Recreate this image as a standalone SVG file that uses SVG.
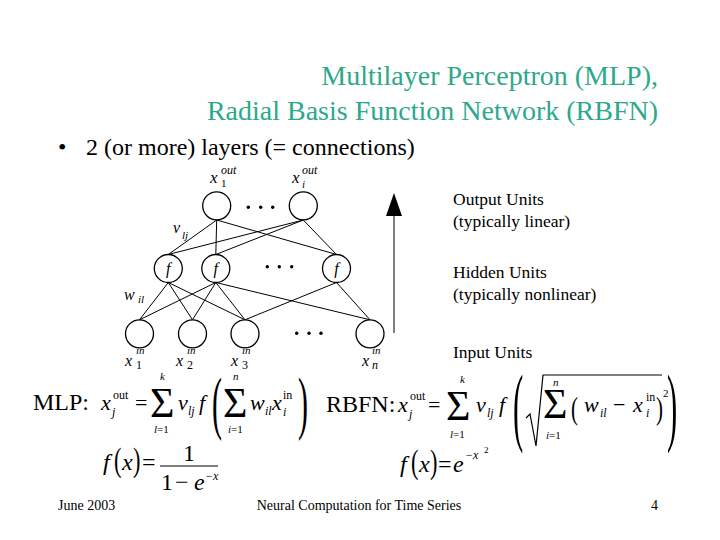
<svg xmlns="http://www.w3.org/2000/svg" width="720" height="540" viewBox="0 0 720 540">
<style>
.t{font-family:"Liberation Serif","Times New Roman",serif;fill:#000}
.i{font-style:italic}
.title{font-family:"Liberation Serif","Times New Roman",serif;font-size:28px;fill:#2DA88A}
.node{fill:#fff;stroke:#000;stroke-width:1.3}
.edge{stroke:#000;stroke-width:1;fill:none}
.dot{fill:#000}
.lg{font-size:17.5px}
</style>
<rect width="720" height="540" fill="#fff"/>

<text class="title" x="658" y="85" text-anchor="end">Multilayer Perceptron (MLP),</text>
<text class="title" x="658" y="120" text-anchor="end">Radial Basis Function Network (RBFN)</text>
<text class="t" x="58" y="155" font-size="24">•</text>
<text class="t" x="86" y="155" font-size="24">2 (or more) layers (= connections)</text>

<g id="connectors">
<line class="edge" x1="216.7" y1="220" x2="168.3" y2="254.5"/>
<line class="edge" x1="216.7" y1="220" x2="215.8" y2="254.5"/>
<line class="edge" x1="216.7" y1="220" x2="336.5" y2="254.5"/>
<line class="edge" x1="303.3" y1="220" x2="168.3" y2="254.5"/>
<line class="edge" x1="303.3" y1="220" x2="215.8" y2="254.5"/>
<line class="edge" x1="303.3" y1="220" x2="336.5" y2="254.5"/>
<line class="edge" x1="168.3" y1="282.5" x2="139.5" y2="319.8"/>
<line class="edge" x1="168.3" y1="282.5" x2="192.5" y2="319.8"/>
<line class="edge" x1="168.3" y1="282.5" x2="245" y2="319.8"/>
<line class="edge" x1="215.8" y1="282.5" x2="139.5" y2="319.8"/>
<line class="edge" x1="215.8" y1="282.5" x2="192.5" y2="319.8"/>
<line class="edge" x1="215.8" y1="282.5" x2="245" y2="319.8"/>
<line class="edge" x1="215.8" y1="282.5" x2="370" y2="319.8"/>
<line class="edge" x1="336.5" y1="282.5" x2="245" y2="319.8"/>
<line class="edge" x1="336.5" y1="282.5" x2="370" y2="319.8"/>
<line class="edge" x1="394" y1="333" x2="394" y2="212"/>
<polygon points="394,193 386,216 402,216" fill="#000"/>
</g>

<g id="out1"><circle class="node" cx="216.7" cy="205.8" r="14"/></g>
<g id="out2"><circle class="node" cx="303.3" cy="205.8" r="14"/></g>
<g id="hid1"><circle class="node" cx="168.3" cy="268.5" r="14"/><text class="t i" x="168.3" y="274" font-size="16" text-anchor="middle">f</text></g>
<g id="hid2"><circle class="node" cx="215.8" cy="268.5" r="14"/><text class="t i" x="215.8" y="274" font-size="16" text-anchor="middle">f</text></g>
<g id="hid3"><circle class="node" cx="336.5" cy="268.5" r="14"/><text class="t i" x="336.5" y="274" font-size="16" text-anchor="middle">f</text></g>
<g id="in1"><circle class="node" cx="139.5" cy="333.8" r="14"/></g>
<g id="in2"><circle class="node" cx="192.5" cy="333.8" r="14"/></g>
<g id="in3"><circle class="node" cx="245" cy="333.8" r="14"/></g>
<g id="inn"><circle class="node" cx="370" cy="333.8" r="14"/></g>

<g id="dots">
<circle class="dot" cx="248.3" cy="207.3" r="1.7"/><circle class="dot" cx="260.7" cy="207.3" r="1.7"/><circle class="dot" cx="272.7" cy="207.3" r="1.7"/>
<circle class="dot" cx="267.3" cy="266.7" r="1.7"/><circle class="dot" cx="279.3" cy="266.7" r="1.7"/><circle class="dot" cx="291.7" cy="266.7" r="1.7"/>
<circle class="dot" cx="296.7" cy="333.3" r="1.7"/><circle class="dot" cx="309" cy="333.3" r="1.7"/><circle class="dot" cx="321" cy="333.3" r="1.7"/>
</g>

<g id="labels">
<text class="t i" x="210" y="183" font-size="17">x</text><text class="t i" x="221" y="174" font-size="12">out</text><text class="t" x="221" y="187" font-size="11">1</text>
<text class="t i" x="292" y="183" font-size="17">x</text><text class="t i" x="302" y="174" font-size="12">out</text><text class="t i" x="302" y="188" font-size="11">i</text>
<text class="t i" x="173" y="233" font-size="16">v</text><text class="t i" x="182" y="239" font-size="11">lj</text>
<text class="t i" x="124" y="300" font-size="16">w</text><text class="t i" x="138" y="303" font-size="11">il</text>
<text class="t i" x="125" y="366" font-size="16">x</text><text class="t i" x="136" y="354" font-size="11">in</text><text class="t" x="136" y="369" font-size="12">1</text>
<text class="t i" x="176" y="366" font-size="16">x</text><text class="t i" x="187" y="354" font-size="11">in</text><text class="t" x="187" y="369" font-size="12">2</text>
<text class="t i" x="231" y="366" font-size="16">x</text><text class="t i" x="242" y="354" font-size="11">in</text><text class="t" x="242" y="369" font-size="12">3</text>
<text class="t i" x="362" y="366" font-size="16">x</text><text class="t i" x="372" y="354" font-size="11">in</text><text class="t i" x="372" y="369" font-size="12">n</text>
</g>

<g id="legend">
<text class="t lg" x="453" y="205">Output Units</text>
<text class="t lg" x="453" y="227">(typically linear)</text>
<text class="t lg" x="453" y="278">Hidden Units</text>
<text class="t lg" x="453" y="300">(typically nonlinear)</text>
<text class="t lg" x="453" y="358">Input Units</text>
</g>

<g id="mlp">
<text class="t" x="33" y="410" font-size="24">MLP:</text>
<text class="t i" x="101" y="410" font-size="22">x</text>
<text class="t" x="113" y="399" font-size="12">out</text>
<text class="t i" x="112" y="416" font-size="12">j</text>
<text class="t" x="135" y="410" font-size="22">=</text>
<text class="t" x="150" y="417" font-size="42">Σ</text>
<text class="t i" x="160" y="380" font-size="11">k</text>
<text class="t" x="154" y="433" font-size="11"><tspan font-style="italic">l</tspan>=1</text>
<text class="t i" x="178" y="410" font-size="22">v</text>
<text class="t i" x="188" y="415" font-size="12">lj</text>
<text class="t i" x="199" y="410" font-size="22">f</text>
<text class="t" font-size="50" transform="translate(212,426) scale(0.6,1.4)">(</text>
<text class="t" x="223" y="417" font-size="42">Σ</text>
<text class="t i" x="233" y="380" font-size="11">n</text>
<text class="t" x="228" y="433" font-size="11"><tspan font-style="italic">i</tspan>=1</text>
<text class="t i" x="250" y="410" font-size="22">w</text>
<text class="t i" x="265" y="415" font-size="12">il</text>
<text class="t i" x="272" y="410" font-size="22">x</text>
<text class="t" x="283" y="399" font-size="12">in</text>
<text class="t i" x="283" y="416" font-size="12">i</text>
<text class="t" font-size="50" transform="translate(298,426) scale(0.6,1.4)">)</text>
</g>

<g id="rbfn">
<text class="t" x="326" y="412" font-size="24">RBFN:</text>
<text class="t i" x="398" y="412" font-size="22">x</text>
<text class="t" x="410" y="400" font-size="12">out</text>
<text class="t i" x="409" y="418" font-size="12">j</text>
<text class="t" x="428" y="412" font-size="22">=</text>
<text class="t" x="446" y="420" font-size="42">Σ</text>
<text class="t i" x="460" y="383" font-size="11">k</text>
<text class="t" x="450" y="438" font-size="11"><tspan font-style="italic">l</tspan>=1</text>
<text class="t i" x="476" y="412" font-size="22">v</text>
<text class="t i" x="487" y="417" font-size="12">lj</text>
<text class="t i" x="499" y="412" font-size="22">f</text>
<text class="t" font-size="56" transform="translate(513,435) scale(0.55,1.55)">(</text>
<polyline points="526,418 530,414 536,446 543,375 662,375" fill="none" stroke="#000" stroke-width="1.2"/>
<text class="t" x="543" y="418" font-size="42">Σ</text>
<text class="t i" x="553" y="386" font-size="11">n</text>
<text class="t" x="546" y="439" font-size="11"><tspan font-style="italic">i</tspan>=1</text>
<text class="t" font-size="30" transform="translate(571,419) scale(0.7,1.05)">(</text>
<text class="t i" x="584" y="412" font-size="22">w</text>
<text class="t i" x="600" y="417" font-size="12">il</text>
<text class="t" x="613" y="412" font-size="22">−</text>
<text class="t i" x="633" y="412" font-size="22">x</text>
<text class="t" x="646" y="401" font-size="12">in</text>
<text class="t i" x="646" y="417" font-size="12">i</text>
<text class="t" font-size="30" transform="translate(656,419) scale(0.7,1.05)">)</text>
<text class="t" x="663" y="397" font-size="11">2</text>
<text class="t" font-size="56" transform="translate(667,435) scale(0.55,1.55)">)</text>
</g>

<g id="fmlp">
<text class="t i" x="103" y="470" font-size="24">f</text>
<text class="t" font-size="28" transform="translate(114,471) scale(0.8,1.2)">(</text>
<text class="t i" x="122" y="470" font-size="24">x</text>
<text class="t" font-size="28" transform="translate(133,471) scale(0.8,1.2)">)</text>
<text class="t" x="142" y="470" font-size="24">=</text>
<line x1="160" y1="466" x2="218" y2="466" stroke="#000" stroke-width="1.2"/>
<text class="t" x="189" y="461" font-size="24" text-anchor="middle">1</text>
<text class="t" x="161" y="490" font-size="24">1</text>
<text class="t" x="175" y="490" font-size="24">−</text>
<text class="t i" x="194" y="490" font-size="24">e</text>
<text class="t i" x="205" y="480" font-size="12">−x</text>
</g>

<g id="frbf">
<text class="t i" x="400" y="472" font-size="24">f</text>
<text class="t" font-size="28" transform="translate(411,473) scale(0.8,1.2)">(</text>
<text class="t i" x="419" y="472" font-size="24">x</text>
<text class="t" font-size="28" transform="translate(430,473) scale(0.8,1.2)">)</text>
<text class="t" x="438" y="472" font-size="24">=</text>
<text class="t i" x="453" y="472" font-size="24">e</text>
<text class="t i" x="465" y="459" font-size="12">−x</text>
<text class="t" x="484" y="453" font-size="9">2</text>
</g>

<g id="footer">
<text class="t" x="58" y="510" font-size="14">June 2003</text>
<text class="t" x="359" y="510" font-size="14" text-anchor="middle">Neural Computation for Time Series</text>
<text class="t" x="658" y="510" font-size="14" text-anchor="end">4</text>
</g>
</svg>
